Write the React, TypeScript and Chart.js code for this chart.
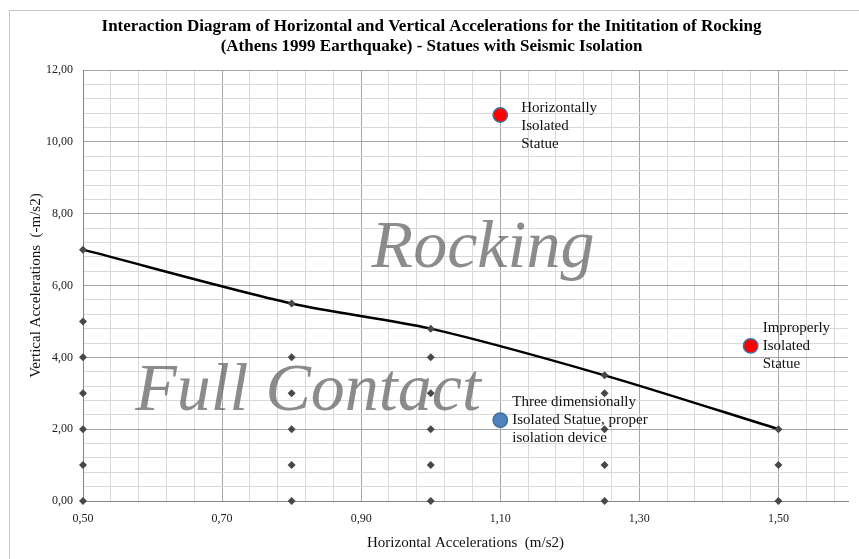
import React, { useEffect, useRef } from 'react';
import { Chart, registerables } from 'chart.js';

Chart.register(...registerables);

// ---------- data ----------
const titleLines = [
  'Interaction Diagram of Horizontal and Vertical Accelerations for the Inititation of Rocking',
  '(Athens 1999 Earthquake) - Statues with Seismic Isolation',
];
const xAxisTitle = 'Horizontal Accelerations  (m/s2)';
const yAxisTitle = 'Vertical Accelerations  (-m/s2)';

const xMin = 0.5;
const xMax = 1.6;
const xMinorStep = 0.04;
const xMajorTicks = [0.5, 0.7, 0.9, 1.1, 1.3, 1.5];
const yMin = 0;
const yMax = 12;
const yMinorStep = 0.4;
const yMajorTicks = [0, 2, 4, 6, 8, 10, 12];

// boundary (rocking initiation) curve
const boundaryX = [0.5, 0.8, 1.0, 1.25, 1.5];
const boundaryY = [7.0, 5.5, 4.8, 3.5, 2.0];

// computed test points (diamonds), one column per horizontal acceleration
const testColumnsX = [0.5, 0.8, 1.0, 1.25, 1.5];
const testColumnsY = [
  [7, 5, 4, 3, 2, 1, 0],
  [5.5, 4, 3, 2, 1, 0],
  [4.8, 4, 3, 2, 1, 0],
  [3.5, 3, 2, 1, 0],
  [2, 1, 0],
];

// statues
const statueLabels = [
  ['Horizontally', 'Isolated', 'Statue'],
  ['Improperly', 'Isolated', 'Statue'],
  ['Three dimensionally', 'Isolated Statue, proper', 'isolation device'],
];
const statueX = [1.1, 1.46, 1.1];
const statueY = [10.75, 4.32, 2.25];
const statueFill = ['#FF0000', '#FF0000', '#4F81BD'];
const statueBorder = ['#41719C', '#41719C', '#41719C'];

// region watermarks
const regionTexts = ['Rocking', 'Full Contact'];
const regionX = [0.915, 0.575];
const regionY = [6.53, 2.53];

// ---------- styling ----------
const labelOffsetX = [21, 12, 12];
const labelOffsetY = [11, 0, 0];
const SERIF = '"Liberation Serif", "Times New Roman", serif';

const near = (v: number, arr: number[]) => arr.some((a) => Math.abs(a - v) < 1e-6);
const fmt = (v: number) => v.toFixed(2).replace('.', ',');

const testPoints = testColumnsX.flatMap((x, i) => testColumnsY[i].map((y) => ({ x, y })));

const regionPlugin = {
  id: 'regionText',
  beforeDatasetsDraw(chart: any) {
    const { ctx, scales } = chart;
    ctx.save();
    ctx.font = `italic 68px ${SERIF}`;
    ctx.fillStyle = 'rgba(100,100,100,0.74)';
    ctx.textAlign = 'left';
    ctx.textBaseline = 'alphabetic';
    regionTexts.forEach((t, i) => {
      ctx.fillText(t, scales.x.getPixelForValue(regionX[i]), scales.y.getPixelForValue(regionY[i]));
    });
    ctx.restore();
  },
};

const statueLabelPlugin = {
  id: 'statueLabels',
  afterDatasetsDraw(chart: any) {
    const { ctx } = chart;
    const meta = chart.getDatasetMeta(2);
    ctx.save();
    ctx.font = `15px ${SERIF}`;
    ctx.fillStyle = '#111111';
    ctx.textAlign = 'left';
    ctx.textBaseline = 'middle';
    const lh = 18;
    meta.data.forEach((el: any, i: number) => {
      const lines = statueLabels[i];
      const startY = el.y + labelOffsetY[i] - ((lines.length - 1) * lh) / 2;
      lines.forEach((ln, j) => {
        ctx.fillText(ln, el.x + labelOffsetX[i], startY + j * lh);
      });
    });
    ctx.restore();
  },
};

export default function App() {
  const canvasRef = useRef<HTMLCanvasElement | null>(null);

  useEffect(() => {
    if (!canvasRef.current) return;
    const chart = new Chart(canvasRef.current, {
      type: 'scatter',
      data: {
        datasets: [
          {
            type: 'line',
            label: 'Boundary',
            data: boundaryX.map((x, i) => ({ x, y: boundaryY[i] })),
            borderColor: '#000000',
            borderWidth: 2.5,
            tension: 0.3,
            pointRadius: 0,
            fill: false,
            clip: false,
            order: 2,
          } as any,
          {
            label: 'Tests',
            data: testPoints,
            pointStyle: 'rectRot',
            pointRadius: 4,
            backgroundColor: '#484848',
            borderColor: '#484848',
            borderWidth: 0,
            clip: false,
            order: 1,
          } as any,
          {
            label: 'Statues',
            data: statueX.map((x, i) => ({ x, y: statueY[i] })),
            pointStyle: 'circle',
            pointRadius: 7.2,
            backgroundColor: statueFill,
            borderColor: statueBorder,
            borderWidth: 1.5,
            clip: false,
            order: 0,
          } as any,
        ],
      },
      options: {
        responsive: false,
        animation: false,
        events: [],
        layout: { padding: { left: 15, right: 11, top: 0, bottom: 0 } },
        plugins: {
          legend: { display: false },
          tooltip: { enabled: false },
          title: {
            display: true,
            text: titleLines,
            color: '#000000',
            font: { family: SERIF, size: 17, weight: 'bold', lineHeight: 1.18 },
            padding: { top: 17, bottom: 13 },
          },
        },
        scales: {
          x: {
            type: 'linear',
            min: xMin,
            max: xMax,
            afterBuildTicks: (scale: any) => {
              const n = Math.floor((xMax - xMin) / xMinorStep + 1e-6);
              const ticks = [];
              for (let k = 0; k <= n; k++) ticks.push({ value: +(xMin + k * xMinorStep).toFixed(6) });
              scale.ticks = ticks;
            },
            afterFit: (scale: any) => {
              scale.height = 58;
            },
            ticks: {
              autoSkip: false,
              maxRotation: 0,
              padding: 11,
              color: '#1A1A1A',
              font: { family: SERIF, size: 12 },
              callback: (v: any) => (near(+v, xMajorTicks) ? fmt(+v) : ''),
            },
            grid: {
              drawTicks: false,
              color: (c: any) => (c.tick && near(c.tick.value, xMajorTicks) ? '#A6A6A6' : '#D9D9D9'),
              lineWidth: 1,
            },
            border: { color: '#868686', width: 1 },
            title: {
              display: true,
              text: xAxisTitle,
              color: '#111111',
              font: { family: SERIF, size: 15, lineHeight: 1.2 },
              padding: { top: 0, bottom: 7 },
            },
          },
          y: {
            type: 'linear',
            min: yMin,
            max: yMax,
            afterFit: (scale: any) => {
              scale.width = 68;
            },
            ticks: {
              stepSize: yMinorStep,
              autoSkip: false,
              padding: 10,
              color: '#1A1A1A',
              font: { family: SERIF, size: 12 },
              callback: (v: any) => (near(+v, yMajorTicks) ? fmt(+v) : ''),
            },
            grid: {
              drawTicks: false,
              color: (c: any) => (c.tick && near(c.tick.value, yMajorTicks) ? '#A6A6A6' : '#D9D9D9'),
              lineWidth: 1,
            },
            border: { color: '#868686', width: 1 },
            title: {
              display: true,
              text: yAxisTitle,
              color: '#111111',
              font: { family: SERIF, size: 15, lineHeight: 1.2 },
              padding: { top: 12, bottom: 0 },
            },
          },
        },
      },
      plugins: [regionPlugin, statueLabelPlugin],
    } as any);
    return () => chart.destroy();
  }, []);

  return (
    <div style={{ position: 'absolute', left: 0, top: 0, width: 859, height: 559, overflow: 'hidden', background: '#ffffff' }}>
      <div
        style={{
          position: 'absolute',
          left: 9,
          top: 10,
          width: 900,
          height: 600,
          border: '1.5px solid #C6C6C6',
        }}
      />
      <canvas ref={canvasRef} width={859} height={559} style={{ position: 'absolute', left: 0, top: 0 }} />
    </div>
  );
}
